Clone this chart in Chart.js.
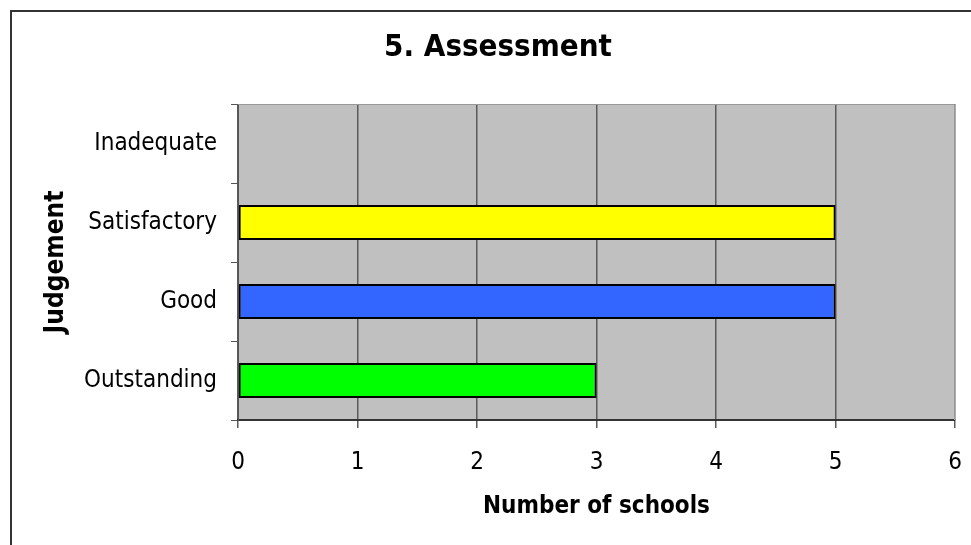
<!DOCTYPE html>
<html>
<head>
<meta charset="utf-8">
<script src="https://cdn.jsdelivr.net/npm/chart.js@4"></script>
<style>
  html, body { margin: 0; padding: 0; background: #fff; }
  #wrap { position: relative; width: 971px; height: 545px; }
</style>
</head>
<body>
<div id="wrap"><canvas id="chart" width="971" height="545"></canvas></div>
<script>
// Chart values.
const categories = ['Inadequate', 'Satisfactory', 'Good', 'Outstanding'];
const schoolCounts = [0, 5, 5, 3];
const barColours = ['#c0c0c0', '#ffff00', '#3366ff', '#00ff00'];
const xTicks = [0, 1, 2, 3, 4, 5, 6];
const chartTitle = '5. Assessment';
const xTitle = 'Number of schools';
const yTitle = 'Judgement';

const FONT = '"DejaVu Sans Condensed", "DejaVu Sans", "Liberation Sans", sans-serif';

// Gray plot area, frame lines and the title drawn by hand.
const decor = {
  id: 'decor',
  beforeDraw(chart) {
    const { ctx, chartArea: a } = chart;
    ctx.save();
    ctx.fillStyle = '#c0c0c0';
    ctx.fillRect(a.left, a.top, a.right - a.left, a.bottom - a.top);
    ctx.restore();
  },
  afterDraw(chart) {
    const { ctx, chartArea: a } = chart;
    ctx.save();
    // outer frame (only left + top visible in the crop)
    ctx.strokeStyle = '#333';
    ctx.lineWidth = 2;
    ctx.beginPath();
    ctx.moveTo(11, 545);
    ctx.lineTo(11, 11);
    ctx.lineTo(971, 11);
    ctx.stroke();
    // plot top/right edges
    ctx.strokeStyle = '#999';
    ctx.lineWidth = 1;
    ctx.beginPath();
    ctx.moveTo(a.left, a.top + 0.5);
    ctx.lineTo(a.right - 0.5, a.top + 0.5);
    ctx.lineTo(a.right - 0.5, a.bottom);
    ctx.stroke();
    // title
    ctx.fillStyle = '#000';
    ctx.font = 'bold 31px ' + FONT;
    ctx.textAlign = 'center';
    ctx.textBaseline = 'middle';
    ctx.fillText(chartTitle, 498, 48);
    ctx.restore();
  }
};

new Chart(document.getElementById('chart'), {
  type: 'bar',
  data: {
    labels: categories,
    datasets: [{
      data: schoolCounts,
      backgroundColor: barColours,
      borderColor: '#000',
      borderWidth: schoolCounts.map(v => (v ? 2 : 0)),
      borderSkipped: false,
      barPercentage: 0.44,
      categoryPercentage: 1
    }]
  },
  options: {
    indexAxis: 'y',
    responsive: false,
    animation: false,
    layout: { padding: { top: 104, left: 27, right: 16, bottom: 20 } },
    plugins: { legend: { display: false }, tooltip: { enabled: false }, title: { display: false } },
    scales: {
      x: {
        min: 0, max: 6,
        afterBuildTicks: (s) => { s.ticks = xTicks.map(v => ({ value: v })); },
        grid: { color: '#5a5a5a', lineWidth: 1.5, tickLength: 8, drawOnChartArea: true },
        border: { color: '#333', width: 2 },
        ticks: { color: '#000', font: { family: FONT, size: 24 }, padding: 20 },
        title: { display: true, text: xTitle, color: '#000', font: { family: FONT, size: 24, weight: 'bold' }, padding: { top: 10 } },
        afterFit: (s) => { s.height = 105; s.paddingLeft = 0; s.paddingRight = 0; }
      },
      y: {
        grid: { offset: true, drawOnChartArea: false, color: '#555', tickLength: 7 },
        border: { color: '#555', width: 1 },
        ticks: { color: '#000', font: { family: FONT, size: 24 }, padding: 14 },
        title: { display: true, text: yTitle, color: '#000', font: { family: FONT, size: 26, weight: 'bold' }, padding: { top: 14, bottom: 0 } },
        afterFit: (s) => { s.width = 211; }
      }
    }
  },
  plugins: [decor]
});
</script>
</body>
</html>
